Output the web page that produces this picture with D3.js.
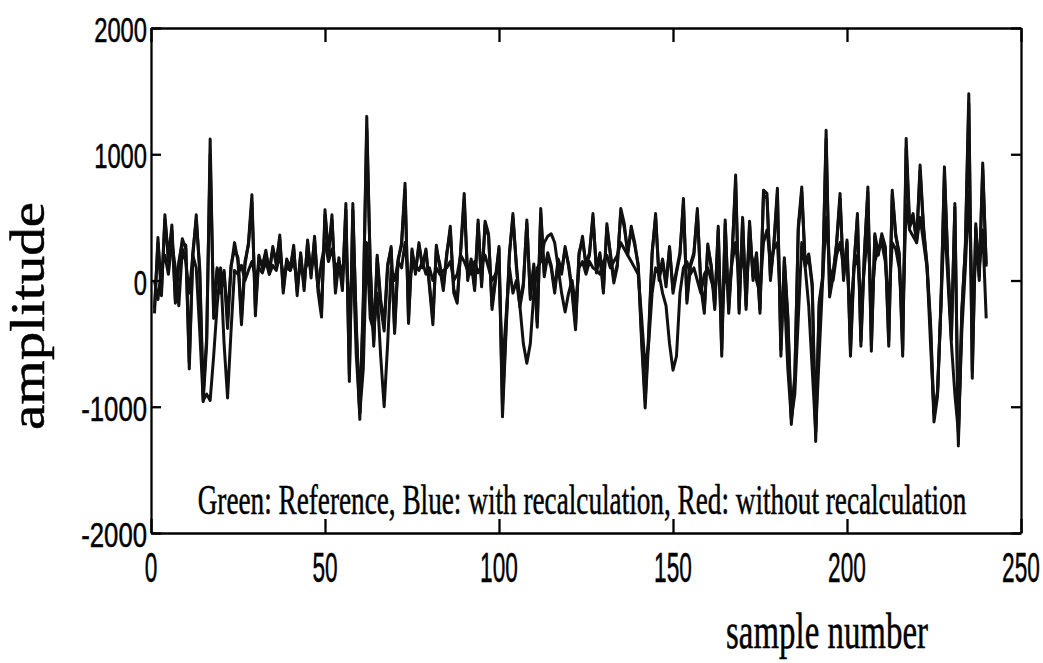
<!DOCTYPE html>
<html lang="en">
<head>
    <meta charset="UTF-8">
    <title>amplitude vs sample number</title>
    <script src="https://cdn.jsdelivr.net/npm/d3@7"></script>
    <style>
        body{
            margin: 0;
            background-color: #fff;
        }
    </style>
</head>
<body>
<script>
    // values, one per sample (1..240)
    const reference = [
        -260, 340, -120, 520, 150, 440, -180, 120, 330, 250,
        -700, 180, 520, 60, -960, -500, 1120, -300, 80, -100,
        60, -380, 100, 300, 150, -350, 120, 300, 680, -280,
        200, 100, 240, 50, 270, 120, 360, -100, 150, 80,
        280, -120, 220, -80, 320, 20, 350, -90, -290, 560,
        200, 520, -100, 150, -80, 610, -800, 610, -400, -1100,
        -200, 1300, 100, -520, 180, -200, -400, 100, 270, -420,
        150, 300, 770, -340, 250, 50, 300, 100, 250, -50,
        -350, 280, 100, -80, 200, 430, -100, -180, 250, 690,
        0, 150, -80, 480, -50, 470, 370, -230, 0, 270,
        -1080, -420, 200, 530, 100, -210, -50, 480, -150, 110,
        -370, 570, 30, 200, 100, -100, 150, 50, 270, 110,
        -100, -390, 200, 350, 110, 200, 530, 60, 200, -100,
        450, 200, -20, 110, 570, 450, 200, 430, 300, 110,
        -500, -1010, -470, 200, 530, 0, 150, -50, 270, -100,
        60, 200, 650, -180, 110, 200, 570, -50, -260, 290,
        100, -230, 430, -600, 480, -260, 200, 835, -260, 500,
        -230, 470, 0, 200, -260, 715, 690, 0, 300, 730,
        -600, 160, -310, -1140, -790, 430, 740, 110, 190, -50,
        -1275, -200, 0, 1190, -130, 30, 300, 690, 0, 320,
        -600, 100, 530, -520, 200, 740, -560, 370, 200, 370,
        270, -520, 715, 370, 200, -600, 1125, 450, 530, 300,
        915, 430, 100, -370, -1120, -920, -200, 900, 110, -470,
        610, -1310, -260, 270, 1480, -775, 450, 0, 930, 110
    ];
    const withRecalc = [
        -220, 300, -80, 480, 200, 400, -150, 150, 300, 280,
        -650, 220, 480, 100, -900, -450, 1000, -250, 100, -50,
        80, -300, 120, 250, 180, -300, 150, 280, 620, -220,
        180, 120, 220, 80, 250, 150, 330, -60, 170, 100,
        250, -80, 200, -50, 300, 50, 320, -50, -250, 520,
        230, 480, -60, 180, -50, 560, -750, 560, -350, -1050,
        -150, 1200, 130, -480, 200, -150, -350, 130, 250, -380,
        170, 280, 720, -300, 230, 80, 280, 120, 230, -20,
        -300, 250, 130, -50, 220, 400, -70, -150, 230, 640,
        30, 170, -50, 450, -20, 440, 350, -200, 30, 250,
        -1000, -380, 220, 500, 130, -180, -20, 450, -120, 130,
        -330, 530, 60, 220, 120, -70, 170, 80, 250, 130,
        -70, -350, 220, 320, 130, 220, 500, 90, 220, -70,
        420, 220, 10, 130, 540, 420, 230, 400, 280, 130,
        -450, -950, -420, 230, 500, 30, 170, -20, 250, -70,
        80, 220, 610, -150, 130, 220, 540, -20, -230, 270,
        120, -200, 400, -550, 450, -230, 220, 780, -230, 470,
        -200, 440, 30, 220, -230, 680, 650, 30, 280, 690,
        -550, 180, -280, -1080, -750, 400, 700, 130, 210, -20,
        -1200, -170, 30, 1120, -100, 60, 280, 650, 30, 300,
        -550, 130, 500, -480, 220, 700, -520, 350, 220, 350,
        250, -480, 680, 350, 220, -550, 1050, 420, 500, 320,
        870, 400, 130, -330, -1060, -880, -170, 850, 130, -430,
        580, -1250, -230, 250, 1400, -720, 420, 30, 880, 130
    ];
    const withoutRecalc = [
        0, -150, 100, 200, 50, 300, 100, -200, 250, 150,
        -100, 200, 100, -400, -950, -900, -950, -600, -200, 100,
        -500, -930, -400, 80, 50, 120, 0, 80, 150, 30,
        100, 60, 150, 50, 120, 80, 200, 50, 100, 80,
        150, 0, 100, 60, 150, 100, 200, -50, 150, 300,
        150, 250, 100, 150, 50, 300, -300, 200, -600, -1050,
        -700, 300, -300, -400, -100, -600, -1000, -500, 100, 0,
        150, 100, 300, 0, 100, 120, 80, 150, 50, 100,
        0, 100, 50, 80, 100, 150, 0, 50, 200, 150,
        80, 50, 150, 60, 120, 200, 100, 0, 50, 100,
        -700, -300, 100, -100, 0, -200, -500, -655, -500, -100,
        100, 150, 300, 350, 370, 300, 100, -100, -250, -100,
        0, -200, 100, 150, 50, 150, 100, 80, 50, 150,
        200, 100, 150, 200, 300, 250, 200, 150, 100, 50,
        -300, -700, -500, -100, 100, 50, -100, -200, -500, -710,
        -600, -100, 100, 150, 50, 100, 0, -100, 50, 100,
        0, -100, 150, -300, 100, -100, 150, 300, 0, 200,
        0, 250, 150, 0, -100, 300, 400, 150, 250, 300,
        -200, -100, -700, -1100, -900, -300, 300, 100, -200, -700,
        -1200, -600, 0, 500, 100, 0, 200, 300, 100, 150,
        -300, 100, 200, -200, 100, 400, -200, 150, 250, 300,
        150, -200, 300, 250, 100, -300, 600, 400, 350, 300,
        500, 300, 100, -500, -1050, -900, -200, 500, 0, -500,
        -900, -1200, -400, 100, 700, -200, 200, 100, 400, -300
    ];
    const xTicks = [0, 50, 100, 150, 200, 250];
    const yTicks = [-2000, -1000, 0, 1000, 2000];
    const legendText = "Green: Reference, Blue: with recalculation, Red: without recalculation";

    const width = 1043;
    const height = 663;
    const margin = { top: 28, right: 22, bottom: 130, left: 151 };
    const innerWidth = width - margin.left - margin.right;
    const innerHeight = height - margin.top - margin.bottom;

    const svg = d3.select("body")
        .append("svg")
        .attr("width", width)
        .attr("height", height)
        .style("display", "block");

    svg.append("rect").attr("width", width).attr("height", height).attr("fill", "#fff");

    const g = svg.append("g")
        .attr("transform", `translate(${margin.left},${margin.top})`);

    const xScale = d3.scaleLinear().domain([0, 250]).range([0, innerWidth]);
    const yScale = d3.scaleLinear().domain([-2000, 2000]).range([innerHeight, 0]);

    // the data lines (printed all in black)
    const line = d3.line()
        .x((d, i) => xScale(i + 1))
        .y(d => yScale(d));

    [withoutRecalc, withRecalc, reference].forEach(series => {
        g.append("path")
            .datum(series)
            .attr("fill", "none")
            .attr("stroke", "#111")
            .attr("stroke-width", 3)
            .attr("stroke-linejoin", "round")
            .attr("d", line);
    });

    // box axes with inward ticks, matlab style
    const styleAxis = sel => {
        sel.selectAll("path, line").attr("stroke", "#000").attr("stroke-width", 2.3);
        sel.selectAll("text").remove();
    };
    g.append("g").attr("transform", `translate(0,${innerHeight})`)
        .call(d3.axisBottom(xScale).tickValues(xTicks).tickSizeInner(-14).tickSizeOuter(0))
        .call(styleAxis);
    g.append("g")
        .call(d3.axisTop(xScale).tickValues(xTicks).tickSizeInner(-14).tickSizeOuter(0))
        .call(styleAxis);
    g.append("g")
        .call(d3.axisLeft(yScale).tickValues(yTicks).tickSizeInner(-10).tickSizeOuter(0))
        .call(styleAxis);
    g.append("g").attr("transform", `translate(${innerWidth},0)`)
        .call(d3.axisRight(yScale).tickValues(yTicks).tickSizeInner(-10).tickSizeOuter(0))
        .call(styleAxis);

    const sans = "Liberation Sans, Arial, sans-serif";
    const serif = "Liberation Serif, Times New Roman, serif";

    // the scan has tall narrow lettering: measure the text, then squeeze it
    // horizontally to the width it has in the picture
    function squeezed(parent, txt, x, y, size, family, anchor, target, rotate) {
        const t = parent.append("text")
            .attr("text-anchor", anchor)
            .style("font-family", family)
            .style("font-size", size + "px")
            .style("stroke", "#000")
            .style("stroke-width", 0.5)
            .text(txt);
        const k = target / t.node().getComputedTextLength();
        t.attr("transform", `translate(${x},${y})` + (rotate ? " rotate(-90)" : "") + ` scale(${k},1)`);
        return t;
    }

    const yLabelWidth = d => String(Math.abs(d)).length * 13.2 + (d < 0 ? 13 : 0);
    yTicks.forEach(d => squeezed(g, d, -4, yScale(d) + 14, 35, sans, "end", yLabelWidth(d)));
    xTicks.forEach(d => squeezed(g, d, xScale(d), innerHeight + 49, 42, sans, "middle", String(d).length * 12.6));

    squeezed(svg, legendText, 582, 514, 42, serif, "middle", 769);
    squeezed(svg, "sample number", 827, 648, 50, serif, "middle", 202);
    squeezed(svg, "amplitude", 44, 316, 48, serif, "middle", 228, true);
</script>
</body>
</html>
